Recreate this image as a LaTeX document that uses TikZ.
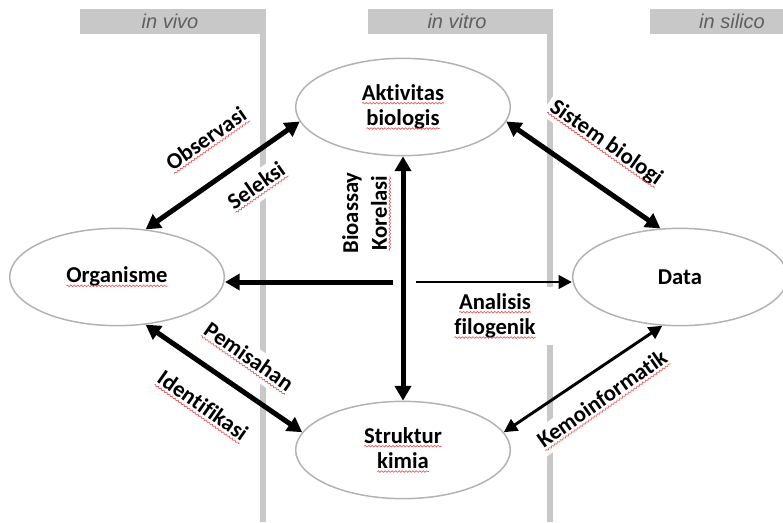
\documentclass[tikz,border=0pt]{standalone}
\usepackage{fontspec}
\setmainfont{Carlito}[Ligatures=NoCommon]
\newfontfamily\hdfont{Liberation Sans}
\usepackage{tikz}
\usetikzlibrary{shapes}
\usetikzlibrary{arrows.meta}
\usetikzlibrary{decorations.pathmorphing}
\usepackage{xcolor}
\definecolor{lane}{RGB}{200,200,200}
\definecolor{rim}{RGB}{178,178,178}
\definecolor{hdtext}{RGB}{95,95,95}
\definecolor{spellred}{RGB}{228,90,90}
\newcommand\spell[1]{\tikz[baseline=(w.base)]{\node[rectangle,inner sep=0pt,outer sep=0pt,draw=none,fill=none,
    minimum width=0pt,minimum height=0pt,rotate=0] (w) {#1};
  \draw[spellred,line width=.5pt,decorate,decoration={snake,amplitude=.6pt,segment length=2.6pt}]
    ([yshift=-2.2pt]w.base west) -- ([yshift=-2.2pt]w.base east);}}

\tikzset{
  stage/.style={ellipse,draw=rim,fill=white,line width=1.1pt,minimum width=161pt,minimum height=73pt,
    align=center,font=\bfseries\fontsize{17}{19}\selectfont},
  tag/.style={fill=white,inner sep=3pt,font=\bfseries\fontsize{17}{19}\selectfont},
  hd/.style={text=hdtext,font=\hdfont\itshape\fontsize{15}{17}\selectfont},
  link/.style={line width=3.75pt,{Triangle[length=11pt,width=12pt]}-{Triangle[length=11pt,width=12pt]}},
  thinlink/.style={line width=2.2pt,{Triangle[length=10pt,width=10pt]}-{Triangle[length=10pt,width=10pt]}},
  solo/.style={line width=3.75pt,-{Triangle[length=11pt,width=12pt]}},
  thinsolo/.style={line width=2.2pt,-{Triangle[length=10pt,width=10pt]}}
}

\begin{document}
\begin{tikzpicture}[x=0.75pt,y=-0.75pt]
\useasboundingbox (0,0) rectangle (783,522);
% lanes
\fill[lane] (80,9) rectangle (266,34);
\fill[lane] (260,34) rectangle (266,522);
\fill[lane] (368,9) rectangle (553,34);
\fill[lane] (547,34) rectangle (553,522);
\fill[lane] (650,9) rectangle (783,34);
\node[hd] (vivo) at (170,21) {in vivo};
\node[hd] (vitro) at (457,21) {in vitro};
\node[hd] (silico) at (732,21) {in silico};
% labels
\node[tag,rotate=35] (obs) at (207,140) {\spell{Observasi}};
\node[tag,rotate=35] (sel) at (257,187) {\spell{Seleksi}};
\node[tag,rotate=90] (bio) at (352,213) {Bioassay};
\node[tag,rotate=90] (kor) at (381,213) {\spell{Korelasi}};
\node[tag,rotate=-35] (sis) at (606,143) {\spell{Sistem biologi}};
\node[tag,align=center,minimum width=93pt,minimum height=44pt] (ana) at (495,316) {\spell{Analisis}\\\spell{filogenik}};
\node[tag,rotate=-35] (pem) at (248,358) {\spell{Pemisahan}};
\node[tag,rotate=-35] (ide) at (202,407) {\spell{Identifikasi}};
\node[tag,rotate=35] (kem) at (603,400) {\spell{Kemoinformatik}};
% ellipses
\node[stage] (akt) at (403,107) {\spell{Aktivitas}\\\spell{biologis}};
\node[stage] (org) at (117,277) {\spell{Organisme}};
\node[stage] (data) at (680,277) {Data};
\node[stage] (str) at (403,450) {\spell{Struktur}\\\spell{kimia}};
% arrows
\draw[link] (org.59) -- (akt.188);
\draw[link] (akt.-8) -- (data.112);
\draw[link] (org.-59) -- (str.170);
\draw[thinlink] (data.-110) -- (str.10);
\draw[link] (akt.south) -- (str.north);
\coordinate (hl) at (393,282);
\coordinate (hr) at (416,282);
\draw[solo] (hl) -- (hl -| org.east);
\draw[thinsolo] (hr) -- (hr -| data.west);
\end{tikzpicture}
\end{document}
